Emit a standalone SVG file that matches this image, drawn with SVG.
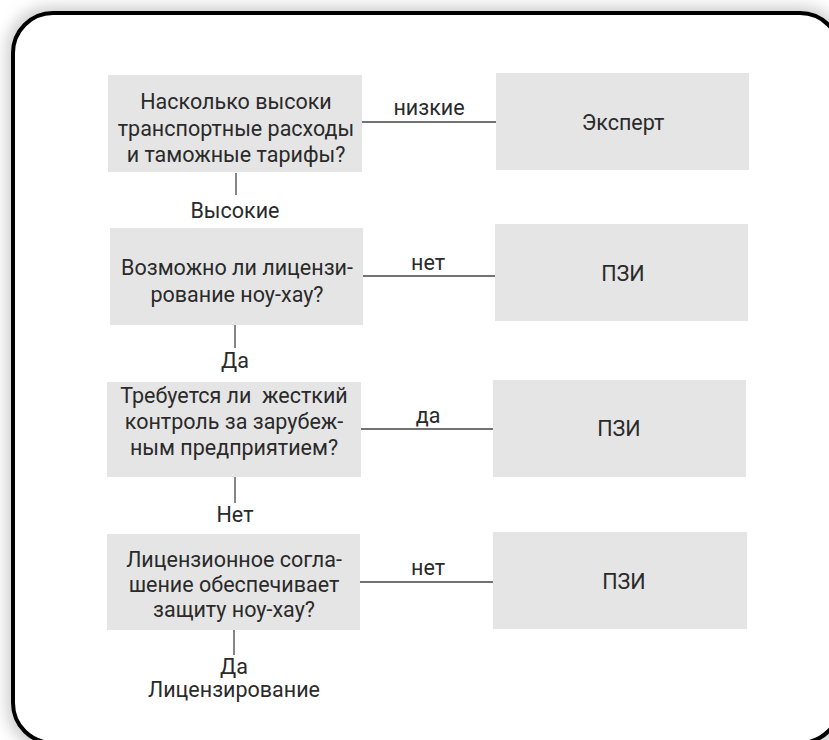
<svg xmlns="http://www.w3.org/2000/svg" width="829" height="740" viewBox="0 0 829 740">
<defs>
<filter id="sh" x="-10%" y="-10%" width="120%" height="120%"><feGaussianBlur stdDeviation="7"/></filter>
<style>
.box{fill:#e5e5e5}
.t{font-family:Roboto,"Liberation Sans",sans-serif;font-size:21.5px;fill:#2a2a2a;text-anchor:middle;white-space:pre}
.c{stroke:#444;stroke-width:1.3;fill:none}
</style>
</defs>
<rect x="0" y="0" width="829" height="740" fill="#fff"/>
<rect x="6" y="6" width="840" height="745" rx="44" fill="#d0d0d0" filter="url(#sh)"/>
<rect x="13" y="13" width="827" height="730" rx="40" fill="#fff" stroke="#000" stroke-width="4"/>
<g id="connectors">
<line class="c" x1="362" y1="122" x2="496" y2="122"/>
<text class="t" x="429" y="115">низкие</text>
<line class="c" x1="236" y1="173" x2="236" y2="195"/>
<text class="t" x="235" y="218">Высокие</text>
<line class="c" x1="363" y1="276" x2="495" y2="276"/>
<text class="t" x="428" y="270">нет</text>
<line class="c" x1="235" y1="325" x2="235" y2="348"/>
<text class="t" x="235" y="368">Да</text>
<line class="c" x1="361" y1="429" x2="493" y2="429"/>
<text class="t" x="428" y="423">да</text>
<line class="c" x1="235" y1="477" x2="235" y2="503"/>
<text class="t" x="235" y="522">Нет</text>
<line class="c" x1="360" y1="582" x2="493" y2="582"/>
<text class="t" x="428" y="575">нет</text>
<line class="c" x1="234" y1="630" x2="234" y2="655"/>
<text class="t" x="234" y="674">Да</text>
<text class="t" x="234" y="697">Лицензирование</text>
</g>
<g id="q1"><rect class="box" x="108" y="75" width="254" height="97"/>
<text class="t" x="236" y="109">Насколько высоки</text>
<text class="t" x="236" y="136">транспортные расходы</text>
<text class="t" x="236" y="162">и таможные тарифы?</text></g>
<g id="r1"><rect class="box" x="496" y="73" width="253" height="97"/>
<text class="t" x="623" y="130">Эксперт</text></g>
<g id="q2"><rect class="box" x="110" y="228" width="253" height="97"/>
<text class="t" x="237" y="275">Возможно ли лицензи-</text>
<text class="t" x="237" y="302">рование ноу-хау?</text></g>
<g id="r2"><rect class="box" x="495" y="224" width="253" height="97"/>
<text class="t" x="623" y="281">ПЗИ</text></g>
<g id="q3"><rect class="box" x="107" y="382" width="254" height="95"/>
<text class="t" x="234" y="403">Требуется ли  жесткий</text>
<text class="t" x="234" y="429">контроль за зарубеж-</text>
<text class="t" x="234" y="455">ным предприятием?</text></g>
<g id="r3"><rect class="box" x="493" y="380" width="253" height="97"/>
<text class="t" x="619" y="436">ПЗИ</text></g>
<g id="q4"><rect class="box" x="107" y="534" width="253" height="96"/>
<text class="t" x="234" y="567">Лицензионное согла-</text>
<text class="t" x="234" y="592">шение обеспечивает</text>
<text class="t" x="234" y="617">защиту ноу-хау?</text></g>
<g id="r4"><rect class="box" x="493" y="532" width="254" height="97"/>
<text class="t" x="624" y="589">ПЗИ</text></g>
</svg>
